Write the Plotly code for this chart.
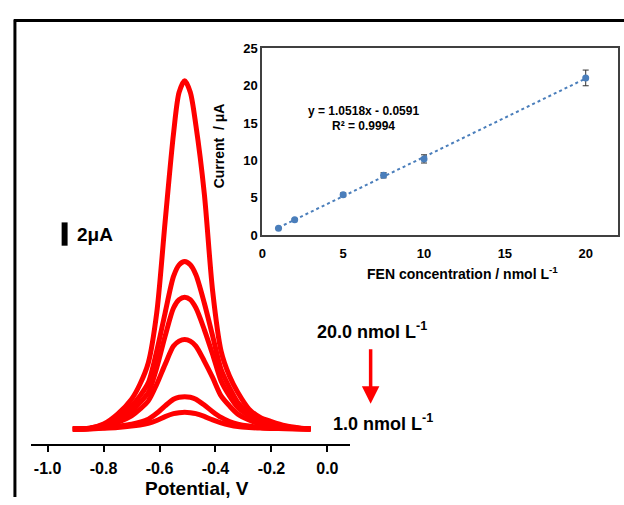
import plotly.graph_objects as go

W, H = 624, 505

# ---- main voltammogram data (potential V, current uA) ----
potential = [-0.91, -0.85, -0.80, -0.75, -0.70, -0.67, -0.64, -0.61, -0.58, -0.55, -0.53,
             -0.51, -0.49, -0.47, -0.44, -0.41, -0.38, -0.35, -0.32, -0.28, -0.24, -0.20,
             -0.15, -0.10, -0.06]
cur_20 = [0, 0.05, 0.3, 0.9, 1.8, 2.7, 4.0, 7.0, 12.5, 17.8, 20.3, 21.0, 20.3, 18.3, 14.2,
          8.3, 4.7, 3.2, 2.2, 1.2, 0.7, 0.45, 0.2, 0.07, 0]
cur_10 = [0, 0.05, 0.25, 0.7, 1.4, 2.0, 2.8, 4.7, 7.0, 9.2, 9.9, 10.1, 9.9, 9.3, 7.6, 5.6,
          3.6, 2.5, 1.6, 0.95, 0.55, 0.35, 0.15, 0.05, 0]
cur_75 = [0, 0.04, 0.2, 0.55, 1.1, 1.6, 2.2, 3.7, 5.6, 7.3, 7.8, 7.95, 7.8, 7.3, 6.0, 4.5,
          2.9, 2.0, 1.3, 0.8, 0.45, 0.28, 0.12, 0.04, 0]
cur_5 = [0, 0.03, 0.15, 0.4, 0.8, 1.2, 1.7, 2.7, 3.9, 5.0, 5.3, 5.4, 5.3, 5.0, 4.1, 3.1,
         2.0, 1.4, 0.9, 0.55, 0.3, 0.18, 0.08, 0.03, 0]
cur_2 = [0, 0.02, 0.08, 0.18, 0.3, 0.42, 0.6, 0.95, 1.4, 1.8, 1.92, 1.95, 1.92, 1.8, 1.45,
         1.05, 0.7, 0.45, 0.3, 0.18, 0.1, 0.06, 0.03, 0.01, 0]
cur_1 = [0, 0.01, 0.05, 0.1, 0.18, 0.25, 0.35, 0.52, 0.75, 0.93, 0.99, 1.02, 0.99, 0.93,
         0.76, 0.55, 0.38, 0.25, 0.16, 0.1, 0.06, 0.04, 0.02, 0.01, 0]
curves = [cur_20, cur_10, cur_75, cur_5, cur_2, cur_1]
main_ticks = [-1.0, -0.8, -0.6, -0.4, -0.2, 0.0]
main_ticklabels = ["-1.0", "-0.8", "-0.6", "-0.4", "-0.2", "0.0"]

# ---- calibration inset data ----
conc = [1, 2, 5, 7.5, 10, 20]
peak_current = [0.91, 2.05, 5.4, 8.0, 10.2, 21.05]
err = [0.1, 0.1, 0.25, 0.35, 0.55, 1.05]
slope, intercept = 1.0518, -0.0591
fit_x = [1, 20]
inset_xticks = [0, 5, 10, 15, 20]
inset_yticks = [0, 5, 10, 15, 20, 25]


def px(x):
    return x / W


def py(y):
    return 1 - y / H


fig = go.Figure()
for c in curves:
    fig.add_trace(go.Scatter(x=potential, y=c, mode="lines", line=dict(color="#ff0000", width=5, shape="spline", smoothing=0.8),
                             xaxis="x", yaxis="y", showlegend=False, hoverinfo="skip"))

fig.add_trace(go.Scatter(x=fit_x, y=[slope * v + intercept for v in fit_x], mode="lines",
                         line=dict(color="#4a7ebb", width=2, dash="dot"),
                         xaxis="x2", yaxis="y2", showlegend=False))
fig.add_trace(go.Scatter(x=conc, y=peak_current, mode="markers",
                         marker=dict(color="#4a7ebb", size=7),
                         error_y=dict(type="data", array=err, color="#333333", thickness=1, width=3),
                         xaxis="x2", yaxis="y2", showlegend=False))

bold_font = "Liberation Sans, Arial, sans-serif"

fig.update_layout(
    width=W, height=H, margin=dict(l=0, r=0, t=0, b=0),
    paper_bgcolor="white", plot_bgcolor="rgba(0,0,0,0)",
    xaxis=dict(domain=[px(27), px(348)], range=[-1.06, 0.08], anchor="y",
               showline=True, linecolor="black", linewidth=2, showgrid=False, zeroline=False,
               ticks="outside", ticklen=6, tickwidth=2, tickcolor="black",
               tickvals=main_ticks, ticktext=main_ticklabels,
               tickfont=dict(family=bold_font, size=16, color="black", weight="bold"),
               ticklabelstandoff=3),
    yaxis=dict(domain=[py(450), py(15)], range=[(435 - 450) / 17.1, (435 - 15) / 17.1],
               visible=False, anchor="x"),
    xaxis2=dict(domain=[px(260), px(618)], range=[0, 22], anchor="y2",
                showline=True, mirror=True, linecolor="#404040", linewidth=2,
                showgrid=False, zeroline=False, tickvals=inset_xticks,
                ticks="outside", ticklen=5, tickcolor="rgba(0,0,0,0)",
                tickfont=dict(family=bold_font, size=13, color="black", weight="bold")),
    yaxis2=dict(domain=[py(235), py(42.7)], range=[0, 25], anchor="x2",
                showline=True, mirror=True, linecolor="#404040", linewidth=2,
                showgrid=False, zeroline=False, tickvals=inset_yticks,
                ticks="",
                tickfont=dict(family=bold_font, size=13, color="black", weight="bold")),
)

shapes = [
    # outer frame
    dict(type="line", xref="paper", yref="paper", x0=px(11), x1=px(11), y0=py(13), y1=py(505),
         line=dict(color="black", width=3)),
    dict(type="line", xref="paper", yref="paper", x0=px(10), x1=px(624), y0=py(14), y1=py(14),
         line=dict(color="black", width=3)),
    # scale bar
    dict(type="rect", xref="paper", yref="paper", x0=px(58), x1=px(64), y0=py(246), y1=py(222),
         fillcolor="black", line=dict(width=0)),
]
fig.update_layout(shapes=shapes)

annots = [
    dict(text="2\u03bcA", x=px(71), y=py(234), xanchor="left", yanchor="middle",
         font=dict(family=bold_font, size=19, color="black", weight="bold")),
    dict(text="Potential, V", x=px(194), y=py(496), xanchor="center", yanchor="middle",
         font=dict(family=bold_font, size=19, color="black", weight="bold")),
    dict(text="20.0 nmol L<sup>-1</sup>", x=px(370), y=py(333), xanchor="center", yanchor="middle",
         font=dict(family=bold_font, size=18, color="black", weight="bold")),
    dict(text="1.0 nmol L<sup>-1</sup>", x=px(381), y=py(428), xanchor="center", yanchor="middle",
         font=dict(family=bold_font, size=18, color="black", weight="bold")),
    dict(text="FEN concentration / nmol L<sup>-1</sup>", x=px(461), y=py(274), xanchor="center", yanchor="middle",
         font=dict(family=bold_font, size=14, color="black", weight="bold")),
    dict(text="Current  / \u03bcA", x=px(216), y=py(143), xanchor="center", yanchor="middle", textangle=-90,
         font=dict(family=bold_font, size=14, color="black", weight="bold")),
    dict(text="y = 1.0518x - 0.0591", x=px(362), y=py(107), xanchor="center", yanchor="middle",
         font=dict(family=bold_font, size=12, color="black", weight="bold")),
    dict(text="R\u00b2 = 0.9994", x=px(362), y=py(123), xanchor="center", yanchor="middle",
         font=dict(family=bold_font, size=12, color="black", weight="bold")),
    # arrow
    dict(text="", x=px(369), y=py(409), ax=0, ay=-56, axref="pixel", ayref="pixel",
         showarrow=True, arrowhead=2, arrowsize=1.0, arrowwidth=3.5, arrowcolor="#ff0000"),
]
for a in annots:
    a.setdefault("xref", "paper")
    a.setdefault("yref", "paper")
    a.setdefault("showarrow", False)
fig.update_layout(annotations=annots)

fit_script = (
    "var s=document.createElement('style');"
    "s.innerHTML='html,body{margin:0;padding:0;overflow:hidden;}';"
    "document.head.appendChild(s);"
    "var gd=document.getElementById('{plot_id}');"
    "var vw=document.documentElement.clientWidth||window.innerWidth;"
    "var vh=document.documentElement.clientHeight||window.innerHeight;"
    "if(vw>0&&vh>0&&(vw!==624||vh!==505)){Plotly.relayout(gd,{width:vw,height:vh});}"
)
fig.write_html("out.html", config={"displayModeBar": False}, post_script=fit_script)
